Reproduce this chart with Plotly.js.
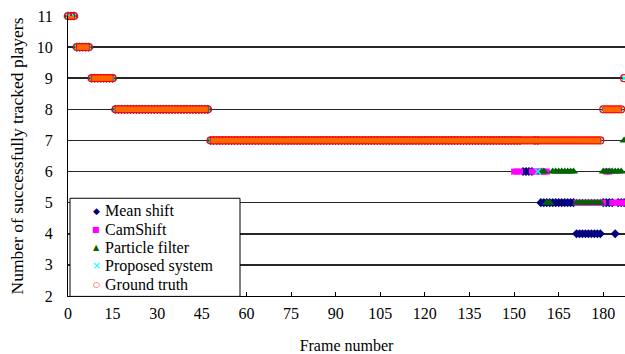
<!DOCTYPE html>
<html><head><meta charset="utf-8">
<script src="https://cdn.plot.ly/plotly-3.0.1.min.js"></script>
<style>html,body{margin:0;padding:0;background:#fff}#chart{width:625px;height:354px}</style>
</head><body><div id="chart"></div>
<script>
// Each run: [first frame, last frame, number of tracked players]
const meanShiftRuns   = [[0,2,11],[3,7,10],[8,15,9],[16,47,8],[48,152,7],[153,156,6],[157,158,7],[159,170,5],[171,179,4],[180,183,5],[184,184,4],[185,187,5]];
const camShiftRuns    = [[0,2,11],[3,7,10],[8,15,9],[16,47,8],[48,149,7],[150,152,6],[153,155,7],[156,161,6],[162,170,7],[171,180,5],[181,182,6],[183,187,5]];
const particleRuns    = [[0,2,11],[3,7,10],[8,15,9],[16,47,8],[48,158,7],[159,160,6],[161,162,5],[163,170,6],[171,179,5],[180,186,6],[187,187,7]];
const proposedRuns    = [[0,2,11],[3,7,10],[8,15,9],[16,47,8],[48,157,7],[158,158,6],[159,179,7],[180,186,8],[187,187,9]];
const groundTruthRuns = [[0,2,11],[3,7,10],[8,15,9],[16,47,8],[48,179,7],[180,186,8],[187,187,9]];

const seriesNames = ['Mean shift','CamShift','Particle filter','Proposed system','Ground truth'];
const xTickVals = [0,15,30,45,60,75,90,105,120,135,150,165,180];
const yTickVals = [2,3,4,5,6,7,8,9,10,11];

function expand(runs, gaps){
  const x=[], y=[];
  runs.forEach((r,i)=>{
    if(gaps && i>0){x.push(null);y.push(null);}
    for(let f=r[0]; f<=r[1]; f++){x.push(f);y.push(r[2]);}
  });
  return {x,y};
}

const ms = expand(meanShiftRuns), cs = expand(camShiftRuns), pf = expand(particleRuns),
      ps = expand(proposedRuns), gt = expand(groundTruthRuns), band = expand(groundTruthRuns, true);

const traces = [
  {type:'scatter',mode:'markers',name:seriesNames[0],x:ms.x,y:ms.y,cliponaxis:false,
   marker:{symbol:'diamond',size:7,color:'#000080'}},
  {type:'scatter',mode:'markers',name:seriesNames[1],x:cs.x,y:cs.y,cliponaxis:false,
   marker:{symbol:'square',size:6,color:'#FF00FF'}},
  {type:'scatter',mode:'markers',name:seriesNames[2],x:pf.x,y:pf.y,cliponaxis:false,
   marker:{symbol:'triangle-up',size:8,color:'#006400'}},
  {type:'scatter',mode:'markers',name:seriesNames[3],x:ps.x,y:ps.y,cliponaxis:false,
   marker:{symbol:'x-thin',size:6,color:'#00FFFF',line:{color:'#00FFFF',width:1.5}}},
  {type:'scatter',mode:'markers',name:seriesNames[4],x:gt.x,y:gt.y,cliponaxis:false,
   marker:{symbol:'circle-open',size:7,color:'#FF0000',line:{width:1.2}}},
  {type:'scatter',mode:'lines',name:'band',showlegend:false,x:band.x,y:band.y,cliponaxis:false,
   line:{color:'#FF6600',width:5.5},hoverinfo:'skip'}
];

// manual legend (box + entries)
const legendGlyphs = [
  {g:'\u25C6',c:'#000080',s:9},
  {g:'\u25A0',c:'#FF00FF',s:8},
  {g:'\u25B2',c:'#006400',s:8},
  {g:'\u00D7',c:'#00FFFF',s:11},
  {g:'\u25CB',c:'#FF0000',s:8}
];
const L = 68, T = 16, W = 557, H = 279.6;
const px = v => (v - L)/W, py = v => (T + H - v)/H;
const rowY = [210.5, 228.8, 247.1, 265.4, 283.7];
const annotations = [];
seriesNames.forEach((n,i)=>{
  annotations.push({xref:'paper',yref:'paper',x:px(96),y:py(rowY[i]),text:legendGlyphs[i].g,showarrow:false,borderpad:0,
    xanchor:'center',yanchor:'middle',font:{family:'DejaVu Sans',size:legendGlyphs[i].s,color:legendGlyphs[i].c}});
  annotations.push({xref:'paper',yref:'paper',x:px(104),y:py(rowY[i]),text:n,showarrow:false,borderpad:0,
    xanchor:'left',yanchor:'middle',font:{family:'Liberation Serif',size:16,color:'#000'}});
});

const layout = {
  width:625,height:354,
  margin:{l:L,r:0,t:T,b:354-T-H},
  paper_bgcolor:'#fff',plot_bgcolor:'#fff',
  showlegend:false,
  font:{family:'Liberation Serif',color:'#000',size:16},
  xaxis:{range:[0,187.3],tickvals:xTickVals,ticks:'inside',ticklen:4,tickcolor:'#000',
    showgrid:false,zeroline:false,showline:true,linecolor:'#000',linewidth:1,
    tickfont:{family:'Liberation Serif',size:16},ticklabelstandoff:3,
    title:{text:'Frame number',font:{family:'Liberation Serif',size:16},standoff:19}},
  yaxis:{range:[2,11],tickvals:yTickVals,ticks:'',showgrid:true,gridcolor:'#262626',gridwidth:1.6,
    zeroline:false,showline:true,linecolor:'#000',linewidth:1,
    tickfont:{family:'Liberation Serif',size:16},ticklabelstandoff:11,
    title:{text:'Number of successfully tracked players',font:{family:'Liberation Serif',size:17.5},standoff:8}},
  shapes:[{type:'rect',xref:'paper',yref:'paper',x0:px(70),x1:px(240),y0:py(296),y1:py(198),
    fillcolor:'#fff',line:{color:'#000',width:1},layer:'above'}],
  annotations:annotations
};

Plotly.newPlot('chart',traces,layout,{staticPlot:true,displayModeBar:false});
</script></body></html>
